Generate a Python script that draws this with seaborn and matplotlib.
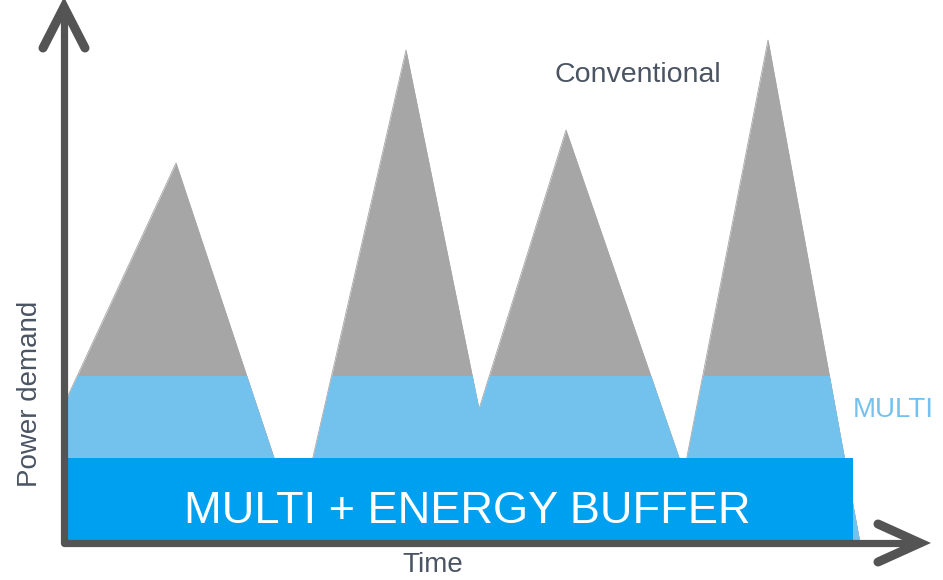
import numpy as np
import matplotlib
matplotlib.use("Agg")
import matplotlib.pyplot as plt
from matplotlib import font_manager
from matplotlib.patches import Rectangle
import seaborn as sns

# Conventional power demand profile (time, power) - arbitrary units
time = [2, 112, 233, 342, 415, 502, 620, 704, 796]
power = [143, 380, 16, 493, 134, 413, 71, 503, 0]

# MULTI caps the peaks at this level
multi_cap = 167

# Energy buffer block (start, end, height)
buffer_start = 2
buffer_end = 789
buffer_height = 85

# axis extents
time_max = 856
power_max = 536

GRAY = "#a6a6a6"
LIGHT_BLUE = "#73c2ee"
DARK_BLUE = "#00a0f0"
AXIS = "#545454"
TEXT = "#4a5463"

sns.set_style("white")
plt.rcParams["font.family"] = ["Liberation Sans", "DejaVu Sans"]

fig = plt.figure(figsize=(9.43, 5.80), dpi=100)
ax = fig.add_axes([0, 0, 1, 1])
ax.set_xlim(-64, 879)
ax.set_ylim(-37, 543)
ax.axis("off")

# conventional (gray) profile
ax.fill_between(time, 0, power, color=GRAY, lw=0, zorder=1)
sns.lineplot(x=time, y=power, color=GRAY, lw=0.6, ax=ax, sort=False, zorder=1)

# MULTI: same profile clipped at the cap
blue = ax.fill_between(time, 0, power, color=LIGHT_BLUE, lw=0, zorder=2)
clip = Rectangle((-10, -10), 1000, multi_cap + 10, transform=ax.transData)
blue.set_clip_path(clip)

# MULTI + energy buffer
ax.add_patch(Rectangle((buffer_start, 0), buffer_end - buffer_start, buffer_height,
                       color=DARK_BLUE, lw=0, zorder=3))

# axes with chevron arrow heads
ax.plot([0, 0, time_max], [power_max, 0, 0], color=AXIS, lw=5.2,
        solid_capstyle="round", solid_joinstyle="round", zorder=4)
ax.plot([-21, 0, 21], [power_max - 41, power_max, power_max - 41], color=AXIS, lw=6.5,
        solid_capstyle="round", solid_joinstyle="miter", zorder=4)
ax.plot([time_max - 42, time_max, time_max - 42], [19, 0, -19], color=AXIS, lw=6.5,
        solid_capstyle="round", solid_joinstyle="miter", zorder=4)

# labels
ax.text(574, 461, "Conventional", fontsize=20.5, color=TEXT, ha="center", va="baseline")
ax.text(789, 126, "MULTI", fontsize=20, color=LIGHT_BLUE, ha="left", va="baseline")
ax.text(403, 20, "MULTI + ENERGY BUFFER", fontsize=32.5, color="white", ha="center",
        va="baseline", zorder=5)
ax.text(369, -29, "Time", fontsize=20, color=TEXT, ha="center", va="baseline")
ax.text(-34, 149, "Power demand", fontsize=20, color=TEXT, ha="center", va="center",
        rotation=90)

fig.savefig("out.png", dpi=100)
